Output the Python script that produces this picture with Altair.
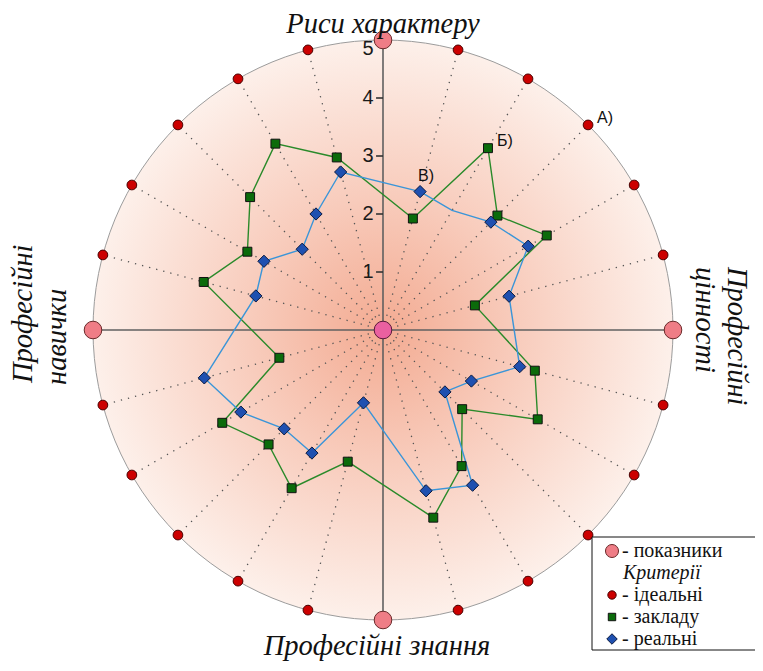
import altair as alt
import numpy as np
import pandas as pd

# ---------------- data ----------------
spoke_angles = [15, 30, 45, 60, 75, 105, 120, 135, 150, 165,
                195, 210, 225, 240, 255, 285, 300, 315, 330, 345]
zakladu = [1.99, 3.62, 2.79, 3.26, 1.64, 2.71, 3.08, 1.93, 2.71, 3.35,
           2.35, 3.15, 2.79, 3.20, 1.85, 3.20, 2.70, 3.24, 3.71, 3.08]
realni = [2.47, 2.38, 2.63, 2.89, 2.25, 2.44, 1.76, 1.51, 3.09, 2.87,
          1.30, 2.45, 2.41, 2.83, 3.19, 2.27, 2.37, 1.97, 2.31, 2.82]
realni_marker = [1, 0, 1, 1, 1, 1, 1, 1, 1, 1,
                 1, 1, 1, 1, 1, 1, 1, 1, 1, 1]
ideal = [5] * 20
cardinal_angles = [0, 90, 180, 270]
pokaznyky = [5, 5, 5, 5]
tick_values = [1, 2, 3, 4]
top_tick = [5]
max_value = 5

# ---------------- geometry ----------------
S = 58.0           # px per unit
CX, CY = 375, 322  # center in chart px
W, H = 747, 655
xs = alt.Scale(domain=[-CX / S, (W - CX) / S], nice=False, zero=False)
ys = alt.Scale(domain=[-(H - CY) / S, CY / S], nice=False, zero=False)


def X(f="x"):
    return alt.X(f"{f}:Q", scale=xs, axis=None)


def Y(f="y"):
    return alt.Y(f"{f}:Q", scale=ys, axis=None)


def polar(angles, vals):
    a = np.radians(np.array(angles, dtype=float))
    v = np.array(vals, dtype=float)
    return v * np.sin(a), v * np.cos(a)


def poly_df(angles, vals):
    x, y = polar(angles, vals)
    x = list(x) + [x[0]]
    y = list(y) + [y[0]]
    return pd.DataFrame({"x": x, "y": y, "i": range(len(x))})


# background disc
bg_df = pd.DataFrame({"x": [0.0], "y": [0.0]})
gradient = {
    "gradient": "radial",
    "x1": 0.5, "y1": 0.5, "r1": 0,
    "x2": 0.5, "y2": 0.5, "r2": 0.5,
    "stops": [
        {"offset": 0, "color": "#f3ab92"},
        {"offset": 0.45, "color": "#f8cbbb"},
        {"offset": 1, "color": "#fdf0ea"},
    ],
}
bg = alt.Chart(bg_df).mark_arc(
    radius=max_value * S, theta=0, theta2=2 * np.pi,
    fill=gradient, stroke="#9c9c9c", strokeWidth=1
).encode(x=X(), y=Y())

# dotted spokes
sx, sy = polar(spoke_angles, [max_value] * len(spoke_angles))
spoke_df = pd.DataFrame({"x0": 0.0, "y0": 0.0, "x1": sx, "y1": sy})
spokes = alt.Chart(spoke_df).mark_rule(
    color="#555555", strokeWidth=1.3, strokeDash=[1.3, 6]
).encode(x=X("x0"), y=Y("y0"), x2="x1:Q", y2="y1:Q")

# solid cardinal axes
cx_, cy_ = polar(cardinal_angles, pokaznyky)
axes_df = pd.DataFrame({"x0": [cx_[0], cx_[1]], "y0": [cy_[0], cy_[1]],
                        "x1": [cx_[2], cx_[3]], "y1": [cy_[2], cy_[3]]})
axes = alt.Chart(axes_df).mark_rule(color="#606060", strokeWidth=1.6).encode(
    x=X("x0"), y=Y("y0"), x2="x1:Q", y2="y1:Q")

# tick marks and labels on vertical axis
tick_df = pd.DataFrame({"v": tick_values, "x0": -0.12, "x1": 0.0})
ticks = alt.Chart(tick_df).mark_rule(color="#333333", strokeWidth=1.6).encode(
    x=X("x0"), x2="x1:Q", y=Y("v"))
tick_labels = alt.Chart(tick_df).mark_text(
    dx=-15, fontSize=20, font="Liberation Sans", color="#1a1a1a"
).encode(x=alt.X("x1:Q", scale=xs, axis=None), y=Y("v"), text="v:Q")
top_df = pd.DataFrame({"v": top_tick, "x1": 0.0})
top_label = alt.Chart(top_df).mark_text(
    dx=-15, dy=9, fontSize=20, font="Liberation Sans", color="#1a1a1a"
).encode(x=alt.X("x1:Q", scale=xs, axis=None), y=Y("v"), text="v:Q")

# polygons
green_line = alt.Chart(poly_df(spoke_angles, zakladu)).mark_line(
    color="#2a8a2a", strokeWidth=1.4).encode(x=X(), y=Y(), order="i:Q")
blue_line = alt.Chart(poly_df(spoke_angles, realni)).mark_line(
    color="#3a95d8", strokeWidth=1.4).encode(x=X(), y=Y(), order="i:Q")

# points
ix, iy = polar(spoke_angles, ideal)
ideal_pts = alt.Chart(pd.DataFrame({"x": ix, "y": iy})).mark_point(
    shape="circle", filled=True, fill="#cc0000", stroke="#4a0000",
    strokeWidth=1, size=95, opacity=1).encode(x=X(), y=Y())

px_, py_ = polar(cardinal_angles, pokaznyky)
pink_pts = alt.Chart(pd.DataFrame({"x": px_, "y": py_})).mark_point(
    shape="circle", filled=True, fill="#ef7d86", stroke="#6a2a2a",
    strokeWidth=1, size=310, opacity=1).encode(x=X(), y=Y())
center_pt = alt.Chart(bg_df).mark_point(
    shape="circle", filled=True, fill="#ea60a0", stroke="#5a1a3a",
    strokeWidth=1, size=310, opacity=1).encode(x=X(), y=Y())

gx, gy = polar(spoke_angles, zakladu)
green_pts = alt.Chart(pd.DataFrame({"x": gx, "y": gy})).mark_point(
    shape="square", filled=True, fill="#0b6b0b", stroke="#111111",
    strokeWidth=1, size=80, opacity=1).encode(x=X(), y=Y())

bx, by = polar(spoke_angles, realni)
bdf = pd.DataFrame({"x": bx, "y": by, "m": realni_marker})
blue_pts = alt.Chart(bdf).transform_filter("datum.m == 1").mark_point(
    shape="diamond", filled=True, fill="#1f50b0", stroke="#0a1a40",
    strokeWidth=1, size=150, opacity=1).encode(x=X(), y=Y())

# А) Б) В) annotations
ax_, ay_ = polar([45], [ideal[2]])
bx_, by_ = polar([30], [zakladu[1]])
vx_, vy_ = polar([15], [realni[0]])
ann1 = alt.Chart(pd.DataFrame({"x": [ax_[0], bx_[0]], "y": [ay_[0], by_[0]],
                               "t": ["А)", "Б)"]})).mark_text(
    dx=17, dy=-7, fontSize=16, font="Liberation Sans", color="#111111"
).encode(x=X(), y=Y(), text="t:N")
ann2 = alt.Chart(pd.DataFrame({"x": [vx_[0]], "y": [vy_[0]], "t": ["В)"]})).mark_text(
    dx=6, dy=-16, fontSize=16, font="Liberation Sans", color="#111111"
).encode(x=X(), y=Y(), text="t:N")

# category titles
one = pd.DataFrame({"a": [0]})
serif = "Liberation Serif"
FS = 28.5
t_top = alt.Chart(one).mark_text(text="Риси характеру", font=serif, fontStyle="italic",
                                 fontSize=FS, color="#111111", baseline="alphabetic").encode(
    x=alt.value(375), y=alt.value(25))
t_bot = alt.Chart(one).mark_text(text="Професійні знання", font=serif, fontStyle="italic",
                                 fontSize=FS, color="#111111", baseline="alphabetic").encode(
    x=alt.value(369), y=alt.value(647))
t_l1 = alt.Chart(one).mark_text(text="Професійні", font=serif, fontStyle="italic",
                                fontSize=FS, color="#111111", angle=270, align="left",
                                baseline="middle").encode(x=alt.value(15), y=alt.value(375))
t_l2 = alt.Chart(one).mark_text(text="навички", font=serif, fontStyle="italic",
                                fontSize=FS, color="#111111", angle=270, align="left",
                                baseline="middle").encode(x=alt.value(49), y=alt.value(377))
t_r1 = alt.Chart(one).mark_text(text="Професійні", font=serif, fontStyle="italic",
                                fontSize=FS, color="#111111", angle=90, align="left",
                                baseline="middle").encode(x=alt.value(729), y=alt.value(259))
t_r2 = alt.Chart(one).mark_text(text="цінності", font=serif, fontStyle="italic",
                                fontSize=FS, color="#111111", angle=90, align="left",
                                baseline="middle").encode(x=alt.value(697), y=alt.value(259))

# manual legend
leg_box = alt.Chart(one).mark_rect(fill="white", stroke="#111111", strokeWidth=1).encode(
    x=alt.value(584), x2=alt.value(780), y=alt.value(529), y2=alt.value(642))


def leg_sym(y, shape, fill, stroke, size):
    return alt.Chart(one).mark_point(shape=shape, filled=True, fill=fill, stroke=stroke,
                                     strokeWidth=1, size=size, opacity=1).encode(
        x=alt.value(604), y=alt.value(y))


def leg_txt(y, text, x=614, style="normal"):
    return alt.Chart(one).mark_text(text=text, font=serif, fontStyle=style, fontSize=20,
                                    color="#111111", align="left", baseline="middle").encode(
        x=alt.value(x), y=alt.value(y))


legend = [
    leg_box,
    leg_sym(543, "circle", "#ef7d86", "#6a2a2a", 170), leg_txt(543, "- показники"),
    leg_txt(565, "Критерії", x=615, style="italic"),
    leg_sym(587, "circle", "#cc0000", "#4a0000", 70), leg_txt(587, "- ідеальні"),
    leg_sym(609, "square", "#0b6b0b", "#111111", 55), leg_txt(609, "- закладу"),
    leg_sym(631, "diamond", "#1f50b0", "#0a1a40", 110), leg_txt(631, "- реальні"),
]

chart = alt.layer(
    bg, spokes, axes, ticks, tick_labels, top_label,
    green_line, blue_line, ideal_pts, pink_pts, center_pt, green_pts, blue_pts,
    ann1, ann2, t_top, t_bot, t_l1, t_l2, t_r1, t_r2, *legend
).properties(
    width=W, height=H, padding=0, autosize=alt.AutoSizeParams(type="none"),
    background="white"
).configure_view(stroke=None)

chart.save("out.html", embed_options={"renderer": "svg", "actions": False})
